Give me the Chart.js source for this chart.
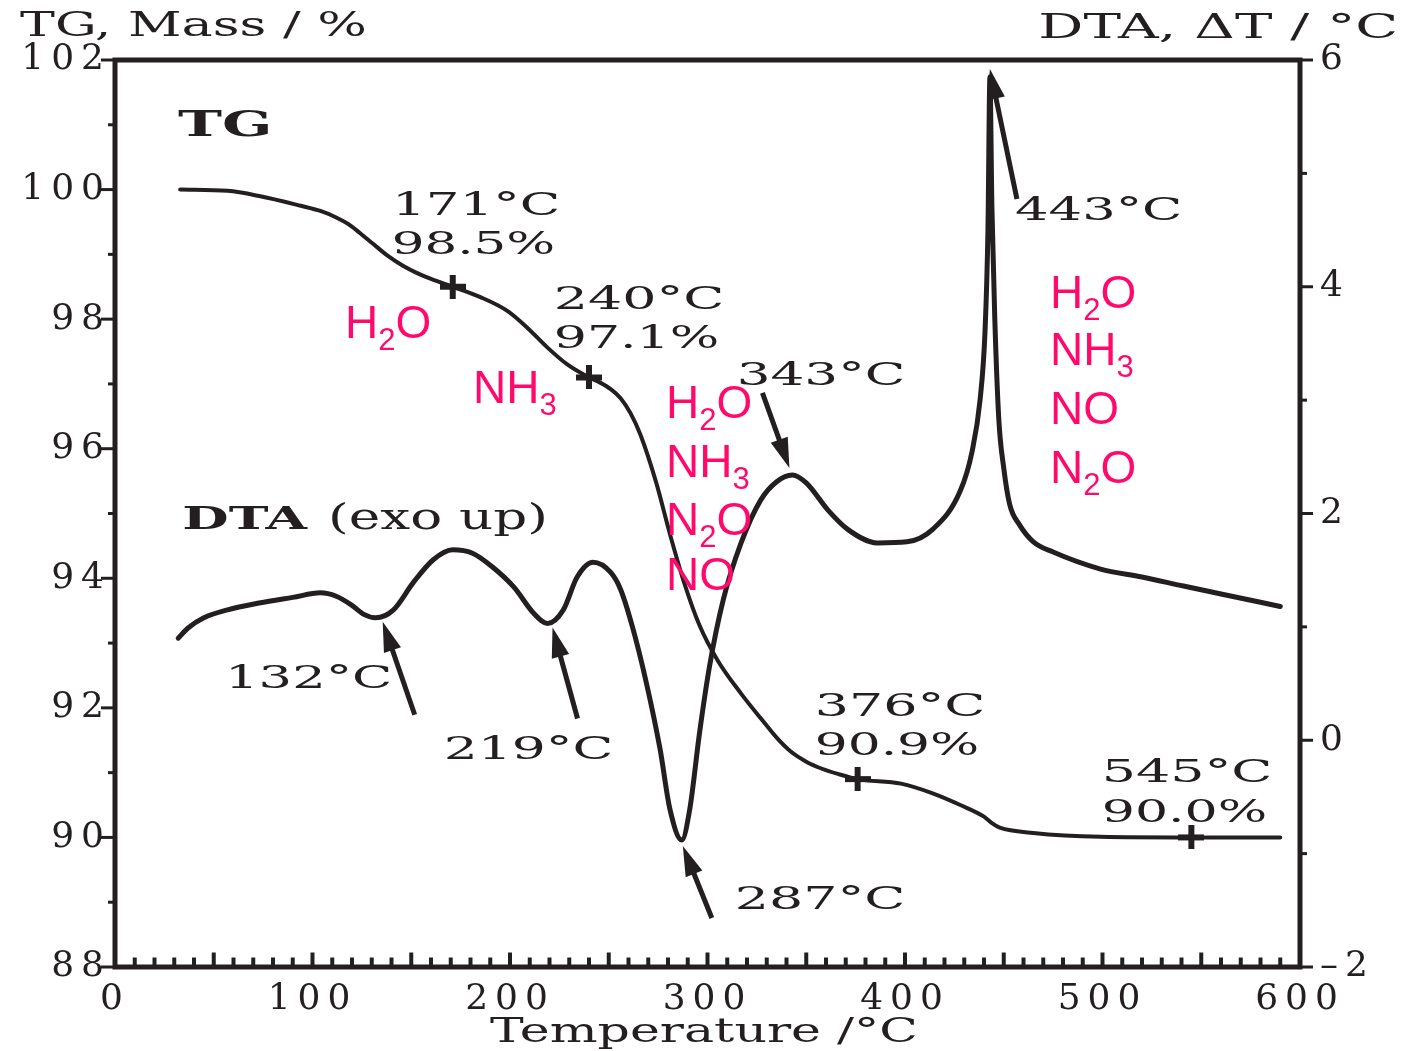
<!DOCTYPE html>
<html>
<head>
<meta charset="utf-8">
<script src="https://cdn.jsdelivr.net/npm/chart.js@4.4.1/dist/chart.umd.min.js"></script>
<style>
  html, body { margin: 0; padding: 0; background: #ffffff; }
  canvas { display: block; }
</style>
</head>
<body>
<canvas id="thermo" width="1402" height="1051"></canvas>
<script>
// ---- TG curve: mass (%) against temperature (°C)
const tgTemp = [33, 57, 73, 94, 104, 112, 118, 124, 130, 138, 146, 153, 160, 171, 185, 199, 209, 219, 229, 240,
                245, 251, 256, 261, 266, 274, 281, 288, 296, 305, 317, 328, 335, 342, 350, 358, 366, 376, 398, 414,
                428, 440, 444, 448, 465, 499, 545, 590];
const tgMass = [100.0, 99.98, 99.9, 99.75, 99.67, 99.57, 99.47, 99.33, 99.18, 98.98, 98.82, 98.71, 98.62, 98.5, 98.34, 98.12, 97.86, 97.56, 97.3, 97.1,
                97.03, 96.92, 96.78, 96.55, 96.22, 95.48, 94.68, 93.95, 93.27, 92.74, 92.22, 91.8, 91.54, 91.33, 91.17, 91.06, 90.98, 90.9, 90.83, 90.68,
                90.5, 90.32, 90.22, 90.15, 90.07, 90.01, 90.0, 90.0];

// ---- DTA curve: ΔT (°C) against temperature (°C), exo up
const dtaTemp = [32, 37, 45, 57, 73, 90, 104, 112, 120, 126, 132, 141, 151, 161, 171, 181, 191, 202, 212, 219, 227, 234,
                 242, 251, 256, 262, 269, 276, 281, 287, 291, 296, 301, 308, 317, 327, 335, 343, 350, 361, 371, 386,
                 401, 414, 428, 434, 438, 440.5, 442, 443, 444, 445.5, 447.5, 450, 453, 458, 465, 475, 499, 520, 541, 560, 590];
const dtaDelta = [0.90, 0.99, 1.08, 1.15, 1.21, 1.26, 1.30, 1.27, 1.19, 1.11, 1.08, 1.15, 1.39, 1.59, 1.68, 1.65, 1.53, 1.35, 1.12, 1.03, 1.15, 1.44,
                  1.57, 1.48, 1.33, 1.0, 0.51, -0.08, -0.61, -0.88, -0.61, 0.07, 0.65, 1.24, 1.74, 2.12, 2.28, 2.34, 2.27, 2.03, 1.86, 1.74,
                  1.75, 1.86, 2.2, 2.55, 3.0, 3.6, 4.5, 5.85, 4.7, 3.7, 2.83, 2.4, 2.08, 1.9, 1.75, 1.66, 1.51, 1.44, 1.36, 1.29, 1.18];

// ---- step points marked on the TG curve
const markTemp = [171, 240, 376, 545];
const markMass = [98.5, 97.1, 90.9, 90.0];

// ---- DTA events pointed at with arrows
const eventTemp = [132, 219, 287, 343, 443];

// ---- axis ticks
const tempTicks = [0, 100, 200, 300, 400, 500, 600];
const massTicks = [88, 90, 92, 94, 96, 98, 100, 102];
const dtaTicks = [-2, 0, 2, 4, 6];
const dtaTickLabels = ['\u20132', '0', '2', '4', '6'];

const INK = '#231f20';
const PINK = '#ff0a6c';

// arrow geometry, relative to the event point on the DTA curve (px)
const arrowLayout = [
  { tip: [7, 4],   tail: [39, 97] },
  { tip: [5, 4],   tail: [30, 95] },
  { tip: [1, 6],   tail: [30, 78] },
  { tip: [-3, -7], tail: [-30, -82] },
  { tip: [0, -8],  tail: [27, 122] }
];

// bold "+" used as the point style of the TG step marks
function plusGlyph() {
  const c = document.createElement('canvas');
  c.width = 26; c.height = 24;
  const g = c.getContext('2d');
  g.fillStyle = INK;
  g.fillRect(0, 9, 26, 6);
  g.fillRect(10, 0, 6, 24);
  return c;
}

// serif caption fitted between left and right ink edges, centred on cy
function serifText(ctx, s, left, right, cy, size, bold) {
  ctx.save();
  ctx.letterSpacing = '0px';
  ctx.font = (bold ? 'bold ' : '') + size + 'px "DejaVu Serif"';
  ctx.fillStyle = INK;
  ctx.textAlign = 'left';
  ctx.textBaseline = 'alphabetic';
  const m = ctx.measureText(s);
  const w = m.actualBoundingBoxLeft + m.actualBoundingBoxRight;
  const sx = (right - left) / w;
  ctx.translate(left, cy + 0.729 * size / 2);
  ctx.scale(sx, 1);
  ctx.fillText(s, m.actualBoundingBoxLeft, 0);
  ctx.restore();
}

// chemical formula, digits set as subscripts
function formula(ctx, s, left, base) {
  ctx.save();
  ctx.letterSpacing = '0px';
  ctx.fillStyle = PINK;
  ctx.textAlign = 'left';
  ctx.textBaseline = 'alphabetic';
  let x = left;
  for (const ch of s) {
    const sub = /\d/.test(ch);
    ctx.font = (sub ? 31 : 46) + 'px "Liberation Sans"';
    ctx.fillText(ch, x, base + (sub ? 12 : 0));
    x += ctx.measureText(ch).width;
  }
  ctx.restore();
}

function arrow(ctx, x1, y1, x2, y2) {
  const a = Math.atan2(y2 - y1, x2 - x1);
  const headLen = 30, headHalf = 9;
  const bx = x2 - headLen * Math.cos(a), by = y2 - headLen * Math.sin(a);
  ctx.save();
  ctx.strokeStyle = INK;
  ctx.fillStyle = INK;
  ctx.lineWidth = 5;
  ctx.beginPath();
  ctx.moveTo(x1, y1);
  ctx.lineTo(bx + 2 * Math.cos(a), by + 2 * Math.sin(a));
  ctx.stroke();
  ctx.beginPath();
  ctx.moveTo(x2, y2);
  ctx.lineTo(bx + headHalf * Math.sin(a), by - headHalf * Math.cos(a));
  ctx.lineTo(bx - headHalf * Math.sin(a), by + headHalf * Math.cos(a));
  ctx.closePath();
  ctx.fill();
  ctx.restore();
}

const framePlugin = {
  id: 'frameAndNotes',
  beforeDraw(chart) {
    // wide tracking for the serif tick numbers
    chart.ctx.letterSpacing = '7px';
  },
  beforeDatasetsDraw(chart) {
    chart.ctx.letterSpacing = '0px';
  },
  afterDraw(chart) {
    const ctx = chart.ctx;
    const { left, right, top, bottom } = chart.chartArea;
    const xs = chart.scales.x, ym = chart.scales.yMass, yd = chart.scales.yDta;
    ctx.save();
    ctx.letterSpacing = '0px';
    ctx.strokeStyle = INK;
    ctx.lineJoin = 'miter';
    ctx.lineWidth = 5;
    ctx.strokeRect(left, top, right - left, bottom - top);

    // left axis ticks (outward)
    ctx.lineWidth = 3;
    for (let v = 88; v <= 102; v += 1) {
      const y = ym.getPixelForValue(v);
      const len = v % 2 === 0 ? 12 : 5;
      ctx.beginPath(); ctx.moveTo(left - 2 - len, y); ctx.lineTo(left, y); ctx.stroke();
    }
    // right axis ticks (outward)
    for (let v = -2; v <= 6; v += 1) {
      const y = yd.getPixelForValue(v);
      const len = v % 2 === 0 ? 10 : 4;
      ctx.beginPath(); ctx.moveTo(right, y); ctx.lineTo(right + 3 + len, y); ctx.stroke();
    }
    // bottom axis ticks (inward)
    ctx.lineWidth = 4;
    for (let t = 0; t <= 600; t += 10) {
      const x = xs.getPixelForValue(t);
      const len = t % 50 === 0 ? 12 : 7;
      ctx.beginPath(); ctx.moveTo(x, bottom); ctx.lineTo(x, bottom - 2.5 - len); ctx.stroke();
    }
    ctx.restore();

    // arrows to DTA events
    eventTemp.forEach((t, i) => {
      const d = dtaDelta[dtaTemp.indexOf(t)];
      const px = xs.getPixelForValue(t), py = yd.getPixelForValue(d);
      const L = arrowLayout[i];
      arrow(ctx, px + L.tail[0], py + L.tail[1], px + L.tip[0], py + L.tip[1]);
    });

    // axis titles
    serifText(ctx, 'TG, Mass / %', 20, 365, 24, 34);
    serifText(ctx, 'DTA, \u0394T / \u00b0C', 1040, 1395, 26, 34);
    serifText(ctx, 'Temperature /\u00b0C', 490, 915, 1030, 34);

    // curve names
    serifText(ctx, 'TG', 178, 268, 123, 36, true);
    serifText(ctx, 'DTA', 184, 309, 517, 32, true);
    serifText(ctx, '(exo up)', 331, 544, 516, 35);

    // step annotations
    serifText(ctx, '171\u00b0C', 397, 558, 203, 32);
    serifText(ctx, '98.5%', 395, 553, 242, 32);
    serifText(ctx, '240\u00b0C', 557, 722, 297, 32);
    serifText(ctx, '97.1%', 557, 717, 336, 32);
    serifText(ctx, '376\u00b0C', 818, 983, 704, 32);
    serifText(ctx, '90.9%', 818, 977, 743, 32);
    serifText(ctx, '545\u00b0C', 1105, 1270, 770, 32);
    serifText(ctx, '90.0%', 1105, 1265, 810, 32);

    // DTA event temperatures
    serifText(ctx, '132\u00b0C', 230, 390, 676, 32);
    serifText(ctx, '219\u00b0C', 447, 611, 747, 32);
    serifText(ctx, '287\u00b0C', 738, 903, 897, 32);
    serifText(ctx, '343\u00b0C', 740, 903, 373, 32);
    serifText(ctx, '443\u00b0C', 1015, 1180, 208, 32);

    // evolved gases
    formula(ctx, 'H2O', 345, 338);
    formula(ctx, 'NH3', 473, 403);
    formula(ctx, 'H2O', 666, 418);
    formula(ctx, 'NH3', 666, 477);
    formula(ctx, 'N2O', 666, 535);
    formula(ctx, 'NO', 666, 590);
    formula(ctx, 'H2O', 1050, 308);
    formula(ctx, 'NH3', 1050, 365);
    formula(ctx, 'NO', 1050, 424);
    formula(ctx, 'N2O', 1050, 483);
  }
};

const tickFont = { family: 'DejaVu Serif', size: 36 };

new Chart(document.getElementById('thermo').getContext('2d'), {
  type: 'line',
  data: {
    datasets: [
      {
        label: 'TG',
        data: tgTemp.map((t, i) => ({ x: t, y: tgMass[i] })),
        yAxisID: 'yMass',
        borderColor: INK,
        borderWidth: 4,
        pointRadius: 0,
        cubicInterpolationMode: 'monotone',
        borderCapStyle: 'round',
        borderJoinStyle: 'round',
        fill: false
      },
      {
        label: 'DTA',
        data: dtaTemp.map((t, i) => ({ x: t, y: dtaDelta[i] })),
        yAxisID: 'yDta',
        borderColor: INK,
        borderWidth: 5,
        pointRadius: 0,
        cubicInterpolationMode: 'monotone',
        borderCapStyle: 'round',
        borderJoinStyle: 'round',
        fill: false
      },
      {
        label: 'TG steps',
        data: markTemp.map((t, i) => ({ x: t, y: markMass[i] })),
        yAxisID: 'yMass',
        showLine: false,
        pointStyle: plusGlyph(),
        pointRadius: 12
      }
    ]
  },
  options: {
    responsive: false,
    animation: false,
    events: [],
    layout: { padding: { top: 60, left: 0, right: 0, bottom: 0 } },
    plugins: { legend: { display: false }, tooltip: { enabled: false } },
    scales: {
      x: {
        type: 'linear', min: 0, max: 600,
        afterBuildTicks: s => { s.ticks = tempTicks.map(v => ({ value: v })); },
        afterFit: s => { s.height = 84; },
        grid: { display: false, drawTicks: false },
        border: { display: false },
        ticks: { color: INK, font: tickFont, padding: 11, maxRotation: 0, autoSkip: false }
      },
      yMass: {
        type: 'linear', position: 'left', min: 88, max: 102,
        afterBuildTicks: s => { s.ticks = massTicks.map(v => ({ value: v })); },
        afterFit: s => { s.width = 115; },
        grid: { display: false, drawTicks: false },
        border: { display: false },
        ticks: { color: INK, font: tickFont, padding: 4 }
      },
      yDta: {
        type: 'linear', position: 'right', min: -2, max: 6,
        afterBuildTicks: s => { s.ticks = dtaTicks.map(v => ({ value: v })); },
        afterFit: s => { s.width = 102; },
        grid: { display: false, drawTicks: false },
        border: { display: false },
        ticks: { color: INK, font: tickFont, padding: 20, callback: v => dtaTickLabels[dtaTicks.indexOf(v)] }
      }
    }
  },
  plugins: [framePlugin]
});
</script>
</body>
</html>
